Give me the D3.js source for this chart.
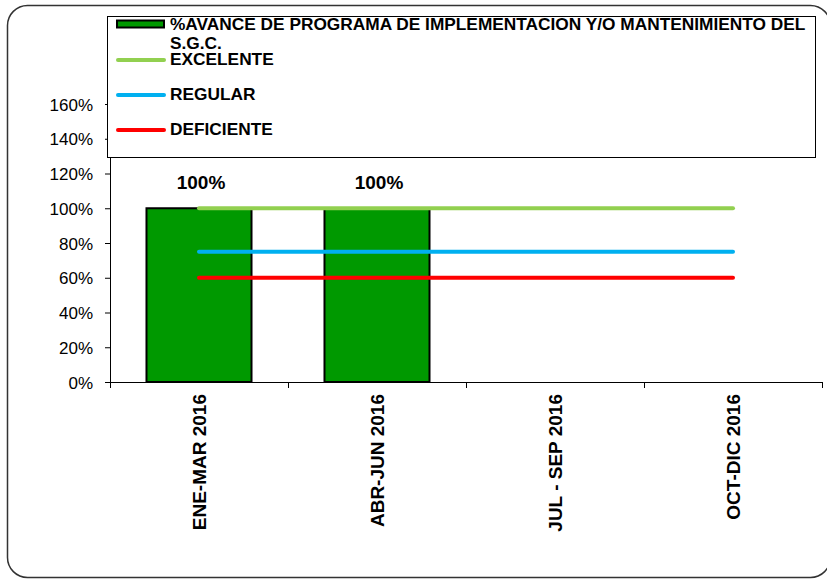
<!DOCTYPE html>
<html>
<head>
<meta charset="utf-8">
<script src="https://cdn.jsdelivr.net/npm/d3@7"></script>
<style>
  body { margin: 0; background: #fff; }
  svg { display: block; font-family: "Liberation Sans", Arial, sans-serif; }
</style>
</head>
<body>
<div id="chart"></div>
<script>
var categories = ["ENE-MAR 2016", "ABR-JUN 2016", "JUL - SEP 2016", "OCT-DIC 2016"];
var avance = [1, 1, null, null];
var excelente = [1, 1, 1, 1];
var regular = [0.75, 0.75, 0.75, 0.75];
var deficiente = [0.6, 0.6, 0.6, 0.6];
var yTicks = [0, 0.2, 0.4, 0.6, 0.8, 1, 1.2, 1.4, 1.6];

var seriesNames = ["%AVANCE DE PROGRAMA DE IMPLEMENTACION Y/O MANTENIMIENTO DEL", "S.G.C."];
var lineSeries = [
    {name: "EXCELENTE", values: excelente, color: "#92d050"},
    {name: "REGULAR", values: regular, color: "#00b0f0"},
    {name: "DEFICIENTE", values: deficiente, color: "#ff0000"}
];

var W = 827, H = 581;
var margin = {top: 104, right: 5, bottom: 199, left: 110},
    width = 822 - margin.left,
    height = 382 - margin.top;

var svg = d3.select("#chart").append("svg")
    .attr("width", W)
    .attr("height", H);

// outer rounded frame
svg.append("rect")
    .attr("x", 7.5).attr("y", 5.5)
    .attr("width", 823).attr("height", 572)
    .attr("rx", 20).attr("ry", 20)
    .attr("fill", "none")
    .attr("stroke", "#333")
    .attr("stroke-width", 1.5);

var g = svg.append("g")
    .attr("transform", "translate(" + margin.left + "," + margin.top + ")");

var x = d3.scaleBand().domain(categories).range([0, width]).padding(0);
var y = d3.scaleLinear().domain([0, 1.6]).range([height, 0]);

// y axis
var yAxis = g.append("g")
    .call(d3.axisLeft(y).tickValues(yTicks).tickFormat(d3.format(".0%")).tickSize(5).tickSizeOuter(0));
yAxis.select(".domain").attr("stroke", "#000");
yAxis.selectAll(".tick line").attr("stroke", "#000");
yAxis.selectAll(".tick text")
    .attr("x", -17)
    .attr("dy", "0.36em")
    .style("font-size", "17px")
    .style("fill", "#000");

// bars
var barW = x.bandwidth() * 0.59;
g.selectAll(".bar")
    .data(categories.map(function(c, i) { return {cat: c, v: avance[i]}; }).filter(function(d) { return d.v != null; }))
    .enter().append("rect")
    .attr("class", "bar")
    .attr("x", function(d) { return x(d.cat) + (x.bandwidth() - barW) / 2; })
    .attr("y", function(d) { return y(d.v); })
    .attr("width", barW)
    .attr("height", function(d) { return height - y(d.v); })
    .attr("fill", "#009900")
    .attr("stroke", "#000")
    .attr("stroke-width", 2);

// x axis
g.append("line")
    .attr("x1", 0).attr("x2", width)
    .attr("y1", height + 0.5).attr("y2", height + 0.5)
    .attr("stroke", "#000");
var bounds = categories.map(function(c) { return x(c); }).concat([width]);
g.selectAll(".xtick")
    .data(bounds)
    .enter().append("line")
    .attr("x1", function(d) { return Math.round(d) + 0.5; })
    .attr("x2", function(d) { return Math.round(d) + 0.5; })
    .attr("y1", height).attr("y2", height + 6)
    .attr("stroke", "#000");

g.selectAll(".xlabel")
    .data(categories)
    .enter().append("text")
    .attr("transform", function(d) {
        return "translate(" + (x(d) + x.bandwidth() / 2 + 7) + "," + (height + 12) + ") rotate(-90)";
    })
    .attr("text-anchor", "end")
    .style("font-size", "19px")
    .style("font-weight", "bold")
    .text(function(d) { return d; });

// lines
var line = d3.line()
    .x(function(d, i) { return x(categories[i]) + x.bandwidth() / 2; })
    .y(function(d) { return y(d); });

g.selectAll(".ref")
    .data(lineSeries)
    .enter().append("path")
    .attr("d", function(d) { return line(d.values); })
    .attr("fill", "none")
    .attr("stroke", function(d) { return d.color; })
    .attr("stroke-width", 4)
    .attr("stroke-linecap", "round");

// data labels
g.selectAll(".dlabel")
    .data(categories.map(function(c, i) { return {cat: c, v: avance[i]}; }).filter(function(d) { return d.v != null; }))
    .enter().append("text")
    .attr("x", function(d) { return x(d.cat) + x.bandwidth() / 2 + 2; })
    .attr("y", function(d) { return y(d.v) - 19; })
    .attr("text-anchor", "middle")
    .style("font-size", "19px")
    .style("font-weight", "bold")
    .text(function(d) { return d3.format(".0%")(d.v); });

// legend
var legend = svg.append("g").attr("transform", "translate(107,16)");
legend.append("rect")
    .attr("x", 0.5).attr("y", 0.5)
    .attr("width", 708).attr("height", 141)
    .attr("fill", "#fff")
    .attr("stroke", "#000");

legend.append("rect")
    .attr("x", 10).attr("y", 4.5)
    .attr("width", 47).attr("height", 7)
    .attr("fill", "#009900")
    .attr("stroke", "#000")
    .attr("stroke-width", 2);

legend.selectAll(".ltitle")
    .data(seriesNames)
    .enter().append("text")
    .attr("x", 63)
    .attr("y", function(d, i) { return 14 + i * 19; })
    .style("font-size", "17.3px")
    .style("font-weight", "bold")
    .text(function(d) { return d; });

var items = legend.selectAll(".litem")
    .data(lineSeries)
    .enter().append("g")
    .attr("transform", function(d, i) { return "translate(0," + (44 + i * 35) + ")"; });

items.append("line")
    .attr("x1", 11).attr("x2", 57)
    .attr("y1", 0).attr("y2", 0)
    .attr("stroke", function(d) { return d.color; })
    .attr("stroke-width", 4)
    .attr("stroke-linecap", "round");

items.append("text")
    .attr("x", 63)
    .attr("y", 5)
    .style("font-size", "17.3px")
    .style("font-weight", "bold")
    .text(function(d) { return d.name; });
</script>
</body>
</html>
